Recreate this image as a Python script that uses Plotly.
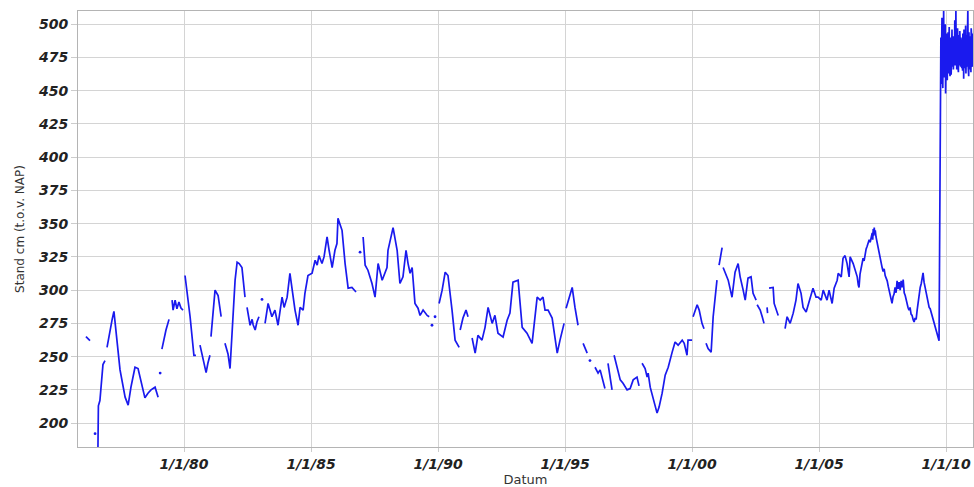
import pandas as pd
import plotly.graph_objects as go

# Grondwaterstand, peilbuis-reeks 1976-2011 (decimale jaren, cm t.o.v. NAP)
# None = onderbreking in de meetreeks
jaar = [
    1976.14, 1976.30, None,
    1976.61, 1976.63, 1976.69, 1976.81, 1976.89, None,
    1976.97, 1977.09, 1977.17, 1977.24, 1977.36, 1977.48, 1977.68, 1977.80, 1977.91,
    1978.07, 1978.19, 1978.31, 1978.46, 1978.58, 1978.70, 1978.86, 1978.98, None,
    1979.13, 1979.21, 1979.29, 1979.41, None,
    1979.53, 1979.57, 1979.65, 1979.72, 1979.80, 1979.88, 1979.96, None,
    1980.04, 1980.24, 1980.39, 1980.47, None,
    1980.63, 1980.75, 1980.87, 1980.94, 1981.02, None,
    1981.06, 1981.22, 1981.34, 1981.46, None,
    1981.61, 1981.73, 1981.81, 1981.93, 1982.01, 1982.09, 1982.17, 1982.28, 1982.40, None,
    1982.48, 1982.56, 1982.60, 1982.68, 1982.72, 1982.80, 1982.87, 1982.95, None,
    1983.19, 1983.31, 1983.46, 1983.58, 1983.70, 1983.86, 1983.94, 1984.06, 1984.17,
    1984.29, 1984.37, 1984.49, 1984.57, 1984.69, 1984.76, 1984.88, 1985.04, 1985.16,
    1985.24, 1985.31, 1985.43, 1985.51, 1985.63, 1985.71, 1985.83, 1985.94, 1986.02,
    1986.06, 1986.22, 1986.34, 1986.46, 1986.61, 1986.77, None,
    1987.05, 1987.13, 1987.24, 1987.40, 1987.52, 1987.64, 1987.80, 1987.91, 1987.99,
    1988.03, 1988.23, 1988.39, 1988.50, 1988.62, 1988.74, 1988.82, 1988.90, 1988.98,
    1989.02, 1989.09, 1989.21, 1989.29, 1989.41, 1989.57, 1989.65, None,
    1990.04, 1990.16, 1990.28, 1990.39, 1990.55, 1990.67, 1990.83, None,
    1990.87, 1990.98, 1991.10, 1991.18, None,
    1991.34, 1991.46, 1991.57, 1991.73, 1991.85, 1991.97, 1992.13, 1992.24, 1992.36,
    1992.56, 1992.72, 1992.83, 1992.95, 1993.15, 1993.31, 1993.50, 1993.70, 1993.90,
    1994.02, 1994.13, 1994.21, 1994.33, 1994.49, 1994.61, 1994.69, 1994.80, 1994.96, None,
    1995.04, 1995.28, 1995.39, 1995.51, None,
    1995.71, 1995.87, None,
    1996.18, 1996.30, 1996.38, 1996.50, 1996.57, None,
    1996.69, 1996.85, None,
    1996.93, 1997.05, 1997.17, 1997.28, 1997.44, 1997.56, 1997.68, 1997.83, 1997.91, None,
    1998.03, 1998.15, 1998.23, 1998.27, 1998.35, 1998.46, 1998.62, 1998.70, 1998.82,
    1998.94, 1999.06, 1999.21, 1999.33, 1999.45, 1999.61, 1999.69, 1999.80, 1999.84, 2000.00, None,
    2000.04, 2000.20, 2000.28, 2000.39, 2000.47, None,
    2000.55, 2000.63, 2000.75, 2000.83, 2000.98, None,
    2001.06, 2001.18, None,
    2001.22, 2001.34, 2001.42, 2001.57, 2001.69, 2001.81, 2001.89, 2002.01, 2002.09,
    2002.20, 2002.32, 2002.40, 2002.52, None,
    2002.56, 2002.68, 2002.76, 2002.83, None,
    2002.95, 2002.97, None,
    2003.03, 2003.19, 2003.23, 2003.31, 2003.39, None,
    2003.66, 2003.74, 2003.86, 2003.98, 2004.09, 2004.17, 2004.29, 2004.37, 2004.49,
    2004.65, 2004.76, 2004.88, 2004.96, 2005.08, 2005.16, 2005.31, 2005.39, 2005.51,
    2005.59, 2005.71, 2005.75, 2005.87, 2005.94, 2006.02, 2006.10, 2006.18, 2006.22,
    2006.34, 2006.50, 2006.54, 2006.57, 2006.61, 2006.65, 2006.69, 2006.73, 2006.77,
    2006.81, 2006.85, 2006.89, 2006.93, 2006.97, 2007.01, 2007.05, 2007.09, 2007.11,
    2007.13, 2007.15, 2007.17, 2007.19, 2007.21, 2007.24, 2007.28, 2007.32, 2007.36,
    2007.40, 2007.44, 2007.48, 2007.52, 2007.56, 2007.60, 2007.64, 2007.68, 2007.72,
    2007.76, 2007.80, 2007.84, 2007.87, 2007.91, 2007.95, 2007.99, 2008.03, 2008.07,
    2008.11, 2008.15, 2008.19, 2008.23, 2008.27, 2008.31, 2008.35, 2008.39, 2008.43,
    2008.47, 2008.50, 2008.54, 2008.58, 2008.62, 2008.66, 2008.70, 2008.74, 2008.78,
    2008.82, 2008.86, 2008.90, 2008.94, 2008.98, 2009.02, 2009.06, 2009.09, 2009.13,
    2009.17, 2009.21, 2009.25, 2009.29, 2009.33, 2009.37, 2009.41, 2009.45, 2009.49,
    2009.53, 2009.57, 2009.61, 2009.65, 2009.69, 2009.72,
]
stand = [
    265, 262, None,
    176, 213, 217, 244, 247, None,
    257, 271, 278, 284, 262, 240, 219.5, 213.5, 227,
    242, 241, 230, 219, 222.5, 225, 227, 219.5, None,
    255.6, 264, 270, 278, None,
    292.5, 285, 292.5, 286, 291, 286.5, 285, None,
    311, 280, 251, 251, None,
    258.6, 248, 238, 245, 251, None,
    265, 300, 296, 280, None,
    260, 252, 241, 287, 307.5, 321, 320, 317, 294.7, None,
    287, 276, 273.6, 278, 274, 270, 276, 280, None,
    275, 290, 280, 285, 273.6, 294.7, 287, 294.7, 312.7,
    294.7, 285, 273.6, 287, 285, 297.6, 311, 312.7, 322.5,
    318.8, 326, 320, 325, 340, 330, 317, 330, 335,
    354, 345, 320, 301.5, 302, 298.6, None,
    340, 318.8, 315, 305, 294.7, 320, 307.5, 313, 317,
    330, 347, 330, 305, 310, 330, 320, 312.7, 317,
    306, 290, 286.4, 281, 285, 281, 280, None,
    290, 300, 313.5, 311, 285, 262.4, 257, None,
    270, 279, 285, 280, None,
    264, 252.6, 266, 262.4, 272, 287, 275, 281, 267.6,
    264.7, 277.4, 282.7, 306, 307.5, 272, 267.6, 260, 294.7,
    292.5, 294.7, 285, 285, 279, 264.7, 252.6, 262.4, 275, None,
    286.4, 302, 287, 273.6, None,
    260, 252.6, None,
    242, 237.6, 240, 230, 226, None,
    245, 225, None,
    251, 242, 232.5, 230, 225, 226, 232.5, 234.6, 228, None,
    245, 241, 234.6, 237.6, 227, 219.5, 207.5, 212, 222.5,
    236, 242, 253, 261, 258.6, 262.4, 260, 251, 262.4, 262.4, None,
    280, 289, 285, 275, 271, None,
    260, 256, 253.4, 280, 307.5, None,
    318.8, 332, None,
    317, 311, 307.5, 294.7, 313.5, 320, 310, 300, 292.5,
    309, 310, 297.6, 292.5, None,
    289, 285, 280, 275, None,
    287, 282.7, None,
    301.5, 302, 290, 285, 281, None,
    271, 280, 275, 282.7, 292.5, 305, 297.6, 287, 283.5,
    294, 301.5, 294.7, 294.7, 292.5, 300, 292.5, 300, 290,
    301.5, 307.5, 312.7, 310, 324, 326, 320, 310, 325,
    320, 310, 304, 302, 312, 316, 320, 324, 322,
    328, 331, 333, 335, 338, 336, 341, 343, 338,
    346, 341, 347, 342, 345, 340, 336, 330, 326,
    322, 320, 317, 314, 316, 311, 309, 307, 303,
    299, 296, 293, 290, 295, 297, 302, 298, 307,
    301, 306, 300, 307, 302, 308, 298, 296, 292,
    289, 287, 285, 287, 282, 281, 278, 276, 279,
    278, 285, 292, 297, 302, 305, 309, 313, 306,
    302, 297, 293, 290, 287, 286, 283, 282, 279,
    276, 273, 270, 266, 264, 262,
]

# Losse metingen zonder aansluitende waarden
stip_jaar = [1976.50, 1979.06, 1983.07, 1986.93, 1989.76, 1989.88, 1995.98]
stip_stand = [192, 237.6, 293, 328.6, 273.6, 280, 247]

# Automatische logger vanaf oktober 2009 (meting om de 4 dagen)
logger_start = "2009-10-05"
logger_stand = [
    455, 478, 462, 490, 455, 497, 470, 505, 466, 488, 452, 492, 474, 512, 468, 495,
    460, 485, 470, 500, 448, 482, 466, 493, 471, 489, 458, 480, 467, 494, 463, 486,
    472, 498, 466, 484, 461, 490, 476, 487, 462, 481, 470, 496, 468, 485, 473, 491,
    466, 479, 470, 488, 474, 503, 469, 486, 477, 512, 472, 494, 466, 489, 475, 497,
    470, 484, 464, 492, 478, 486, 469, 495, 473, 482, 468, 490, 476, 485, 467, 488,
    481, 465, 493, 470, 487, 459, 496, 472, 484, 467, 490, 474, 499, 463, 486, 471,
    492, 468, 483, 476, 512, 469, 488, 461, 494, 473, 485, 466, 491, 477, 482, 464,
    497, 470, 489, 475, 486, 468, 493, 472,
]

tick_datums = ["1980-01-01", "1985-01-01", "1990-01-01", "1995-01-01",
               "2000-01-01", "2005-01-01", "2010-01-01"]
tick_labels = ["1/1/80", "1/1/85", "1/1/90", "1/1/95", "1/1/00", "1/1/05", "1/1/10"]
y_ticks = [200, 225, 250, 275, 300, 325, 350, 375, 400, 425, 450, 475, 500]


def naar_datum(j):
    if j is None:
        return None
    jr = int(j)
    return pd.Timestamp(jr, 1, 1) + pd.Timedelta(days=(j - jr) * 365.25)


logger_datums = list(pd.date_range(logger_start, periods=len(logger_stand), freq="4D"))
x_lijn = [naar_datum(j) for j in jaar] + logger_datums
y_lijn = stand + logger_stand

lijnkleur = "#1a1aee"

fig = go.Figure()
fig.add_trace(go.Scatter(
    x=x_lijn, y=y_lijn, mode="lines", connectgaps=False,
    line=dict(color=lijnkleur, width=1.7), hoverinfo="x+y",
))
fig.add_trace(go.Scatter(
    x=[naar_datum(j) for j in stip_jaar], y=stip_stand, mode="markers",
    marker=dict(color=lijnkleur, size=2.8),
))

tick_font = dict(family="DejaVu Sans", size=14, color="#222222",
                 weight="bold", style="italic")

fig.update_layout(
    width=974, height=487,
    margin=dict(l=78, r=1, t=11, b=40),
    paper_bgcolor="white", plot_bgcolor="white",
    showlegend=False,
    xaxis=dict(
        range=["1975-10-30", "2011-01-22"],
        tickvals=tick_datums, ticktext=tick_labels,
        tickfont=tick_font,
        showgrid=True, gridcolor="#d4d4d4", gridwidth=1,
        showline=True, linecolor="#b4b4b4", linewidth=1, mirror=True,
        ticks="outside", ticklen=4, tickcolor="#cccccc",
        zeroline=False,
        title=dict(text="Datum", font=dict(family="DejaVu Sans", size=13, color="#333333"),
                   standoff=2),
    ),
    yaxis=dict(
        range=[182, 510],
        tickvals=y_ticks,
        tickfont=tick_font,
        showgrid=True, gridcolor="#d4d4d4", gridwidth=1,
        showline=True, linecolor="#b4b4b4", linewidth=1, mirror=True,
        ticks="outside", ticklen=6, tickcolor="#cccccc",
        zeroline=False,
        title=dict(text="Stand cm (t.o.v. NAP)",
                   font=dict(family="DejaVu Sans", size=12, color="#333333"),
                   standoff=10),
    ),
)

fig.write_html("out.html")
